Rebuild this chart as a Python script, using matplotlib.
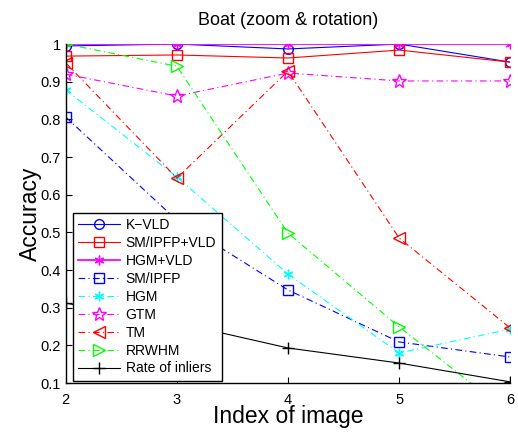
import numpy as np
import matplotlib
matplotlib.use('Agg')
import matplotlib.pyplot as plt
from matplotlib.ticker import FormatStrFormatter

# image index on the x axis
image_idx = [2, 3, 4, 5, 6]

# accuracy per method
kvld = [0.995, 1.0, 0.987, 1.0, 0.952]
sm_ipfp_vld = [0.968, 0.971, 0.963, 0.984, 0.952]
hgm_vld = [1.0, 1.0, 1.0, 1.0, 1.0]
sm_ipfp = [0.806, 0.532, 0.347, 0.209, 0.169]
hgm = [0.878, 0.647, 0.389, 0.180, 0.243]
gtm = [0.920, 0.862, 0.923, 0.902, 0.902]
tm = [0.950, 0.644, 0.928, 0.485, 0.246]
rrwhm = [1.0, 0.941, 0.498, 0.249, 0.018]
inliers = [0.312, 0.260, 0.193, 0.153, 0.103]

plt.rcParams['font.family'] = ['Liberation Sans', 'DejaVu Sans']

MAG = '#ff00ff'
CYAN = '#00ffff'

fig = plt.figure(figsize=(5.18, 4.34), dpi=100)
ax = fig.add_axes([0.127, 0.1175, 0.858, 0.781])

dd = (0, (6, 3, 1, 3))
ms = 7
lw = 0.8

ax.plot(image_idx, kvld, '-', color='b', lw=lw, marker='o', mfc='none', ms=ms, label='K\u2212VLD')
ax.plot(image_idx, sm_ipfp_vld, '-', color='r', lw=lw, marker='s', mfc='none', ms=ms, label='SM/IPFP+VLD')
ax.plot(image_idx, hgm_vld, '-', color=MAG, lw=lw*1.6, marker=(6, 2, 0), ms=ms, mew=1, label='HGM+VLD')
ax.plot(image_idx, sm_ipfp, linestyle=dd, color='b', lw=lw, marker='s', mfc='none', ms=ms, label='SM/IPFP')
ax.plot(image_idx, hgm, linestyle=dd, color=CYAN, lw=lw, marker=(6, 2, 0), ms=ms, mew=1, label='HGM')
ax.plot(image_idx, gtm, linestyle=dd, color=MAG, lw=lw, marker='*', mfc='none', ms=ms + 3, label='GTM')
ax.plot(image_idx, tm, linestyle=dd, color='r', lw=lw, marker='<', mfc='none', ms=ms + 2, label='TM')
ax.plot(image_idx, rrwhm, linestyle=dd, color='lime', lw=lw, marker='>', mfc='none', ms=ms + 2, label='RRWHM')
ax.plot(image_idx, inliers, '-', color='k', lw=lw, marker='+', ms=ms + 1, label='Rate of inliers')

ax.set_xlim(2, 6)
ax.set_ylim(0.1, 1.0)
ax.set_xticks(image_idx)
ax.set_yticks(np.arange(1, 11) / 10)
ax.yaxis.set_major_formatter(FormatStrFormatter('%g'))
ax.tick_params(direction='in', length=4, labelsize=10.5, width=0.8)
ax.tick_params(axis='x', pad=7)
ax.spines['top'].set_visible(False)
ax.spines['right'].set_visible(False)
for s in ['left', 'bottom']:
    ax.spines[s].set_linewidth(1.0)

ax.set_title('Boat (zoom & rotation)', fontsize=13, pad=14)
ax.set_xlabel('Index of image', fontsize=16.5, labelpad=-1)
ax.set_ylabel('Accuracy', fontsize=16.5, labelpad=-1)

leg = ax.legend(loc='lower left', bbox_to_anchor=(0.016, 0.006), borderaxespad=0,
                fontsize=10, fancybox=False, framealpha=1, edgecolor='k',
                handlelength=3, handletextpad=0.4, labelspacing=0.28, borderpad=0.4)
leg.get_frame().set_linewidth(1.0)

fig.savefig('out.png', dpi=100)
